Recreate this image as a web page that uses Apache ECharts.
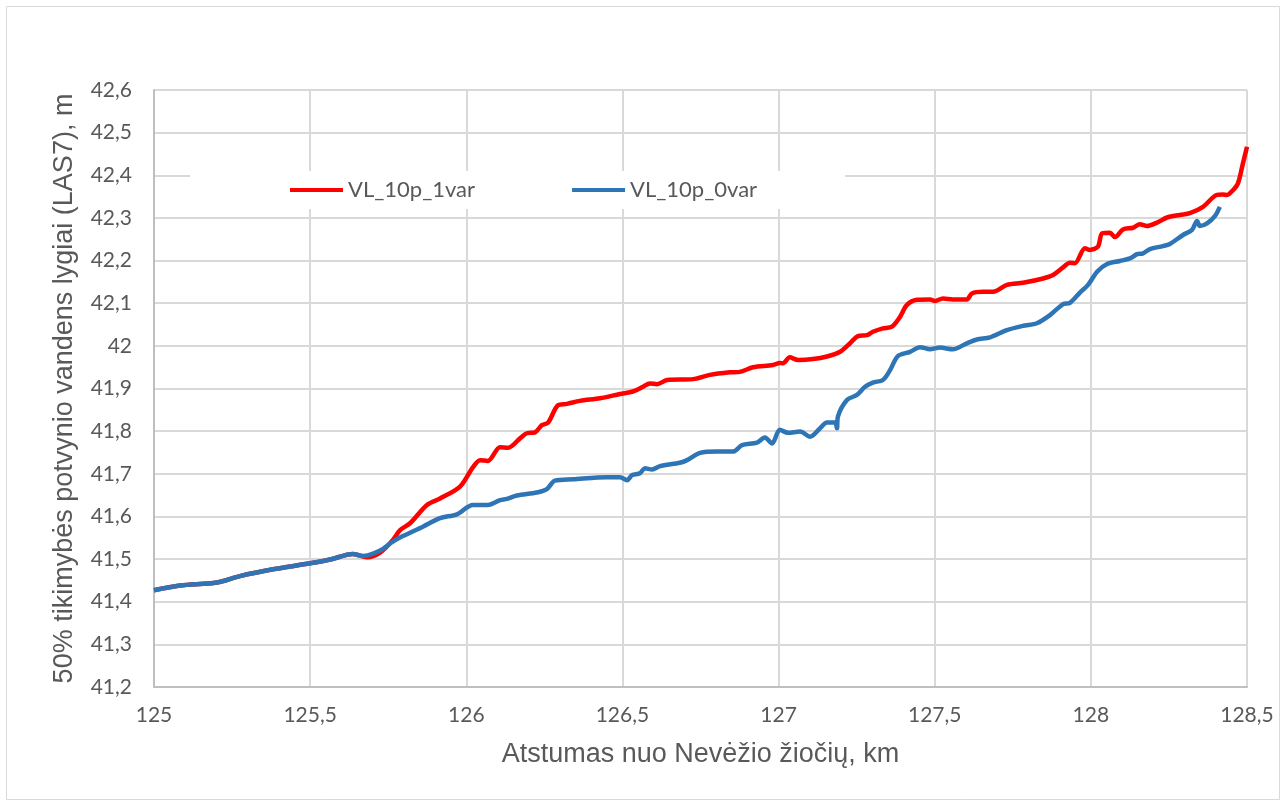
<!DOCTYPE html>
<html>
<head>
<meta charset="utf-8">
<script src="https://cdn.jsdelivr.net/npm/echarts@6/dist/echarts.min.js"></script>
<style>
  html, body { margin: 0; padding: 0; background: #fff; }
  #chart { width: 1287px; height: 806px; }
</style>
</head>
<body>
<div id="chart"></div>
<script>
// atstumas (km) ir lygis (m) – nuskaityta nuo paveikslo
const redKm = [125.000, 125.083, 125.202, 125.275, 125.381, 125.500, 125.564, 125.637, 125.682, 125.724,
  125.765, 125.788, 125.820, 125.874, 125.916, 125.980, 126.021, 126.044, 126.069, 126.108,
  126.134, 126.172, 126.194, 126.220, 126.242, 126.262, 126.294, 126.322, 126.364, 126.428,
  126.492, 126.534, 126.566, 126.588, 126.611, 126.643, 126.726, 126.780, 126.844, 126.876,
  126.918, 126.982, 127.004, 127.014, 127.036, 127.062, 127.110, 127.155, 127.197, 127.229,
  127.254, 127.283, 127.302, 127.334, 127.363, 127.389, 127.411, 127.443, 127.485, 127.501,
  127.526, 127.558, 127.603, 127.619, 127.654, 127.687, 127.731, 127.783, 127.847, 127.879,
  127.911, 127.933, 127.949, 127.981, 127.997, 128.023, 128.036, 128.061, 128.077, 128.103,
  128.135, 128.157, 128.180, 128.212, 128.244, 128.285, 128.317, 128.359, 128.404, 128.423,
  128.436, 128.455, 128.471, 128.487, 128.500]
const redLevel = [41.427, 41.438, 41.445, 41.460, 41.476, 41.490, 41.499, 41.512, 41.504, 41.515,
  41.545, 41.568, 41.584, 41.627, 41.642, 41.670, 41.715, 41.732, 41.730, 41.762,
  41.761, 41.783, 41.795, 41.797, 41.814, 41.820, 41.861, 41.864, 41.871, 41.877,
  41.887, 41.893, 41.904, 41.912, 41.910, 41.920, 41.922, 41.932, 41.938, 41.939,
  41.950, 41.955, 41.960, 41.959, 41.973, 41.967, 41.969, 41.975, 41.986, 42.006,
  42.023, 42.025, 42.033, 42.041, 42.045, 42.068, 42.096, 42.108, 42.109, 42.105,
  42.111, 42.109, 42.109, 42.123, 42.127, 42.127, 42.143, 42.148, 42.158, 42.166,
  42.184, 42.195, 42.194, 42.229, 42.225, 42.233, 42.264, 42.265, 42.255, 42.273,
  42.277, 42.285, 42.281, 42.289, 42.301, 42.307, 42.311, 42.326, 42.354, 42.355,
  42.354, 42.365, 42.381, 42.428, 42.467]

const blueKm = [125.000, 125.083, 125.202, 125.275, 125.381, 125.500, 125.564, 125.637, 125.669, 125.724,
  125.765, 125.797, 125.861, 125.916, 125.970, 126.021, 126.069, 126.108, 126.130, 126.162,
  126.226, 126.258, 126.284, 126.342, 126.451, 126.492, 126.515, 126.531, 126.556, 126.572,
  126.595, 126.620, 126.684, 126.707, 126.749, 126.803, 126.854, 126.883, 126.931, 126.956,
  126.979, 127.004, 127.030, 127.069, 127.101, 127.133, 127.155, 127.181, 127.187, 127.190,
  127.219, 127.251, 127.277, 127.302, 127.334, 127.357, 127.382, 127.421, 127.453, 127.485,
  127.517, 127.558, 127.603, 127.635, 127.677, 127.731, 127.783, 127.827, 127.869, 127.911,
  127.933, 127.965, 127.991, 128.020, 128.052, 128.093, 128.125, 128.148, 128.167, 128.189,
  128.231, 128.253, 128.295, 128.324, 128.340, 128.349, 128.372, 128.397, 128.413]
const blueLevel = [41.427, 41.438, 41.445, 41.460, 41.476, 41.490, 41.499, 41.512, 41.507, 41.520,
  41.541, 41.554, 41.576, 41.596, 41.605, 41.627, 41.627, 41.638, 41.641, 41.649,
  41.656, 41.664, 41.684, 41.687, 41.692, 41.692, 41.685, 41.697, 41.701, 41.713,
  41.710, 41.718, 41.726, 41.732, 41.749, 41.752, 41.752, 41.767, 41.773, 41.785,
  41.771, 41.803, 41.796, 41.799, 41.787, 41.807, 41.820, 41.820, 41.807, 41.834,
  41.873, 41.885, 41.904, 41.914, 41.920, 41.943, 41.976, 41.986, 41.997, 41.992,
  41.996, 41.992, 42.006, 42.015, 42.020, 42.037, 42.047, 42.053, 42.072, 42.098,
  42.101, 42.125, 42.143, 42.174, 42.192, 42.199, 42.205, 42.215, 42.217, 42.227,
  42.234, 42.239, 42.260, 42.272, 42.293, 42.281, 42.287, 42.304, 42.326]

const xTicks = ['125', '125,5', '126', '126,5', '127', '127,5', '128', '128,5']
const yTicks = ['41,2', '41,3', '41,4', '41,5', '41,6', '41,7', '41,8', '41,9', '42', '42,1', '42,2', '42,3', '42,4', '42,5', '42,6']

const zip = (xs, ys) => xs.map((x, i) => [x, ys[i]])
const tickFmt = (labels, min, step) => v => labels[Math.round((v - min) / step)] || ''

const myChart = echarts.init(document.getElementById('chart'))
const option = {
  animation: false,
  backgroundColor: '#fff',
  graphic: [
    {
      type: 'rect',
      shape: { x: 6.5, y: 6.5, width: 1273, height: 793 },
      style: { fill: 'none', stroke: '#d9d9d9', lineWidth: 1 },
      silent: true
    }
  ],
  grid: {
    left: 154,
    right: 40,
    top: 90,
    bottom: 119
  },
  legend: {
    left: 190,
    top: 171,
    backgroundColor: '#fff',
    padding: [8, 88, 8, 100],
    itemGap: 97,
    itemWidth: 53,
    itemHeight: 4,
    icon: 'rect',
    textStyle: {
      fontFamily: 'Lato',
      fontSize: 22,
      color: '#595959'
    },
    data: ['VL_10p_1var', 'VL_10p_0var']
  },
  xAxis: {
    type: 'value',
    min: 125,
    max: 128.5,
    interval: 0.5,
    name: 'Atstumas nuo Nevėžio žiočių, km',
    nameLocation: 'middle',
    nameGap: 54,
    nameTextStyle: {
      fontFamily: 'Liberation Sans',
      fontSize: 27,
      color: '#595959'
    },
    axisLine: { lineStyle: { color: '#bfbfbf', width: 2 } },
    axisTick: { show: false },
    axisLabel: {
      margin: 18,
      fontFamily: 'Lato',
      fontSize: 21,
      color: '#595959',
      formatter: tickFmt(xTicks, 125, 0.5)
    },
    splitLine: { lineStyle: { color: '#d9d9d9', width: 2 } }
  },
  yAxis: {
    type: 'value',
    min: 41.2,
    max: 42.6,
    interval: 0.1,
    name: '50% tikimybės potvynio vandens lygiai (LAS7), m',
    nameLocation: 'middle',
    nameGap: 76,
    nameTextStyle: {
      fontFamily: 'Liberation Sans',
      fontSize: 27,
      color: '#595959'
    },
    axisLine: { show: true, lineStyle: { color: '#bfbfbf', width: 2 } },
    axisTick: { show: false },
    axisLabel: {
      margin: 22,
      fontFamily: 'Lato',
      fontSize: 21,
      color: '#595959',
      formatter: tickFmt(yTicks, 41.2, 0.1)
    },
    splitLine: { lineStyle: { color: '#d9d9d9', width: 2 } }
  },
  series: [
    {
      name: 'VL_10p_1var',
      type: 'line',
      symbol: 'none',
      smooth: 0.3,
      lineStyle: { color: '#ff0000', width: 4.5 },
      itemStyle: { color: '#ff0000' },
      data: zip(redKm, redLevel)
    },
    {
      name: 'VL_10p_0var',
      type: 'line',
      symbol: 'none',
      smooth: 0.3,
      lineStyle: { color: '#2e75b6', width: 4.5 },
      itemStyle: { color: '#2e75b6' },
      data: zip(blueKm, blueLevel)
    }
  ]
}
myChart.setOption(option)
</script>
</body>
</html>
